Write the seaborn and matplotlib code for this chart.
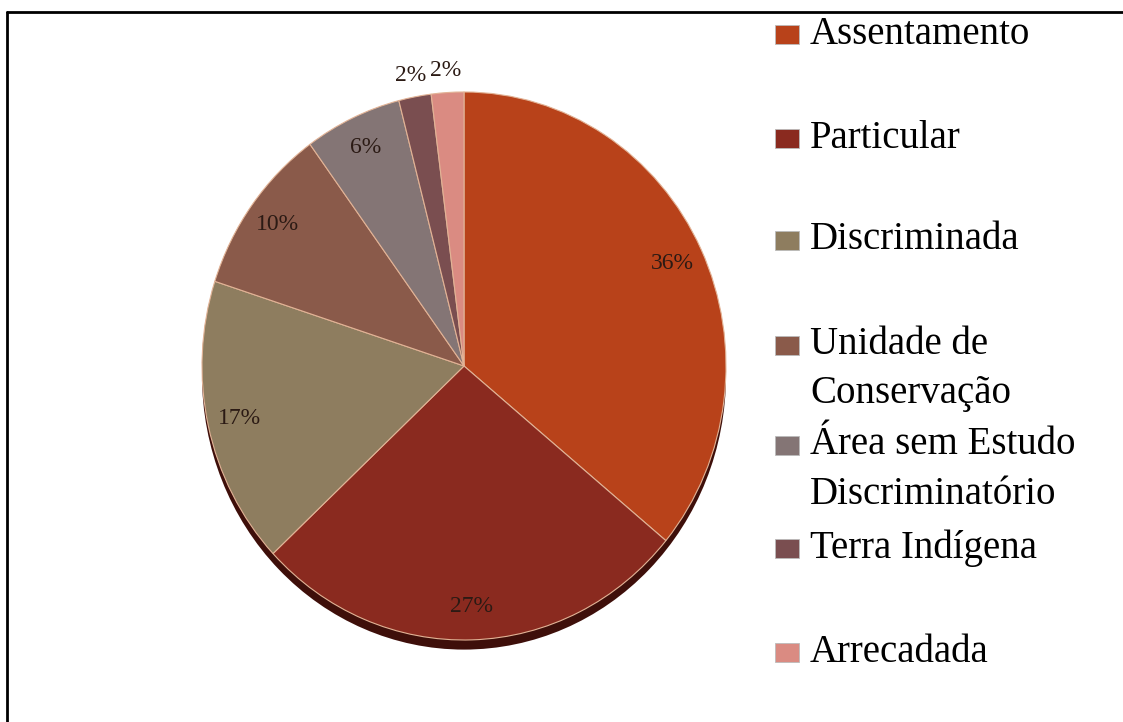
import matplotlib
matplotlib.use("Agg")
import numpy as np
import matplotlib.pyplot as plt
from matplotlib.patches import Ellipse, Rectangle
from matplotlib.lines import Line2D
import seaborn as sns

# -----------------------------
# DATA
# -----------------------------
categories = [
    "Assentamento",
    "Particular",
    "Discriminada",
    "Unidade de Conservação",
    "Área sem Estudo Discriminatório",
    "Terra Indígena",
    "Arrecadada",
]
shares = [36, 27, 17, 10, 6, 2, 2]
colors = ["#B8421A", "#8A2A1F", "#8E7D5F", "#8A5A4A", "#847575", "#7A4E50", "#DA8B82"]

# legend text as it wraps in the original
legend_lines = [
    ["Assentamento"],
    ["Particular"],
    ["Discriminada"],
    ["Unidade de", "Conservação"],
    ["Área sem Estudo", "Discriminatório"],
    ["Terra Indígena"],
    ["Arrecadada"],
]
# legend row positions in pixels from the top
legend_y = [34, 138, 240, 345, 445, 548, 652]

# -----------------------------
# FIGURE
# -----------------------------
sns.set_theme(style="white")
plt.rcParams["font.family"] = ["Liberation Serif", "DejaVu Serif"]

W, H = 1123, 722
fig = plt.figure(figsize=(W / 100, H / 100), dpi=100)
fig.patch.set_facecolor("white")

palette = sns.color_palette(colors)

# pie axes (slightly tall ellipse like the 3D Excel pie)
ax = fig.add_axes([202 / W, 0.0946, 524 / W, 0.778])

# dark rim under the pie
ax.add_patch(Ellipse((0, -0.035), 2.0, 2.0, facecolor="#3E0F0A", edgecolor="none", zorder=0))

wedges, texts, autotexts = ax.pie(
    shares,
    colors=palette,
    startangle=90,
    counterclock=False,
    autopct="%1.0f%%",
    pctdistance=0.88,
    wedgeprops=dict(edgecolor="#E2B396", linewidth=0.8),
    textprops=dict(fontsize=17, color="#2B1A14"),
)
for w in wedges:
    w.set_zorder(1)

# the two small slices get their label outside
for w, t in zip(wedges[-2:], autotexts[-2:]):
    mid = np.deg2rad((w.theta1 + w.theta2) / 2)
    t.set_position((1.09 * np.cos(mid), 1.08 * np.sin(mid)))

ax.set_aspect("auto")
ax.set_xlim(-1, 1)
ax.set_ylim(-1.05, 1.0)
ax.axis("off")

# -----------------------------
# LEGEND
# -----------------------------
for col, lines, y in zip(palette, legend_lines, legend_y):
    fig.patches.append(Rectangle((775 / W, 1 - (y + 10) / H), 24 / W, 19 / H,
                                 transform=fig.transFigure, facecolor=col,
                                 edgecolor="#BBBBBB", linewidth=0.6))
    for i, line in enumerate(lines):
        fig.text(810 / W, 1 - (y + i * 49) / H, line, fontsize=28,
                 color="black", va="center", ha="left")

# frame (only top and left edges visible)
fig.lines.append(Line2D([7 / W, 1], [1 - 12 / H, 1 - 12 / H], transform=fig.transFigure,
                        color="black", linewidth=2))
fig.lines.append(Line2D([7 / W, 7 / W], [0, 1 - 12 / H], transform=fig.transFigure,
                        color="black", linewidth=2))

fig.savefig("out.png", dpi=100)
